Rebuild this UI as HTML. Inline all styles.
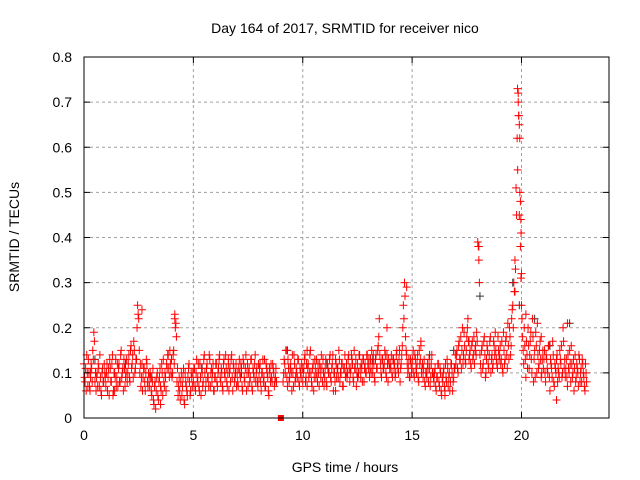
<!DOCTYPE html>
<html><head><meta charset="utf-8">
<style>
body{margin:0;background:#fff;}
svg{display:block;font-family:"Liberation Sans",sans-serif;}
</style></head>
<body>
<svg id="chart" width="640" height="480">
</svg>
<script>
const xTicks=[0,5,10,15,20];
const yTicks=[0,0.1,0.2,0.3,0.4,0.5,0.6,0.7,0.8];
const yTickLabels=["0","0.1","0.2","0.3","0.4","0.5","0.6","0.7","0.8"];
const startHour=0, stepHour=0.05, offsetHour2=0.025;
const redValues=[
12,8,6,10,13,7,9,11,15,19,8,6,10,12,7,9,5,11,8,10,
7,12,9,5,11,8,14,6,10,13,9,7,12,8,15,10,6,11,9,13,
10,14,8,16,12,9,15,11,13,25,22,10,7,12,9,11,6,13,8,10,
7,9,5,11,3,8,6,10,4,9,7,12,5,8,10,6,11,14,9,12,
13,10,15,23,21,8,5,9,4,10,7,11,3,8,6,9,12,5,10,7,
8,11,6,13,9,7,12,5,10,8,14,6,11,9,7,13,10,8,12,6,
9,12,7,11,14,8,10,6,13,9,11,7,12,10,8,14,6,11,9,12,
10,7,13,9,11,6,12,8,14,10,7,11,9,13,6,10,12,8,11,7,
9,12,6,10,8,13,7,11,9,5,10,12,8,11,7,9,null,null,null,null,
null,null,8,13,10,15,7,11,9,12,6,10,14,8,11,9,13,7,10,12,
8,11,14,9,7,12,10,15,8,11,6,13,9,10,12,7,11,14,8,10,
9,13,7,11,10,14,8,12,6,10,13,9,11,15,8,10,12,7,11,9,
12,10,14,8,11,13,9,15,11,7,12,10,14,9,11,13,8,12,10,14,
11,9,13,15,10,12,8,14,11,16,22,12,9,13,11,15,10,14,8,12,
11,14,9,13,12,10,15,11,13,8,12,16,25,30,18,14,10,13,9,12,
11,15,9,13,10,14,8,12,17,11,9,13,7,10,12,8,11,9,14,10,
8,11,6,9,12,7,10,5,8,11,6,9,13,7,10,8,12,6,9,11,
12,15,10,17,13,11,20,14,16,12,18,22,13,15,11,17,14,12,16,19,
39,35,14,10,16,12,18,9,13,15,11,17,10,14,12,16,19,13,11,15,
14,12,17,10,15,13,18,11,16,20,14,22,25,30,35,51,62,72,45,38,
25,18,12,16,9,14,20,11,17,13,22,8,15,19,10,14,12,17,9,13,
11,15,8,13,10,16,6,12,9,14,7,11,13,8,10,15,12,9,20,11,
9,13,7,11,15,8,12,10,6,14,9,11,7,13,10,8,12,9,6,10
];
const redValues2=[
9,11,14,7,10,6,12,8,13,17,10,9,7,11,14,6,10,8,12,9,
10,6,11,13,8,12,5,10,9,7,12,11,8,14,9,11,13,7,10,8,
12,9,15,11,14,17,10,13,20,23,15,12,9,6,11,8,10,12,7,9,
10,6,8,4,7,2,9,5,8,11,6,10,13,7,9,12,14,11,15,10,
9,14,12,20,18,11,7,6,8,5,9,4,10,7,5,11,8,6,9,10,
11,7,10,8,12,6,9,11,7,13,10,8,12,9,14,7,11,10,6,9,
12,8,10,13,9,11,7,12,10,14,8,10,6,11,13,9,12,8,10,7,
8,11,10,12,7,13,9,11,6,12,10,8,13,7,11,9,14,10,8,12,
11,8,10,13,9,7,12,10,6,11,8,9,12,10,8,11,null,null,null,null,
null,null,10,12,15,9,13,8,11,10,14,7,12,9,10,13,8,11,9,11,
10,13,8,12,11,9,14,10,7,12,9,11,13,8,10,12,9,11,13,7,
11,8,12,10,13,9,11,14,10,8,12,11,9,13,10,12,7,11,14,10,
9,13,11,10,14,12,8,11,13,10,9,14,11,12,8,13,11,10,14,12,
13,11,10,12,14,9,13,11,15,18,14,10,13,11,12,14,9,12,13,11,
12,10,13,11,9,14,12,10,15,11,14,20,22,27,15,12,11,9,13,10,
13,10,14,11,12,9,15,13,10,12,11,8,10,9,11,13,7,12,10,9,
10,7,9,12,8,11,6,9,10,7,12,8,11,9,6,12,10,8,11,14,
14,11,16,13,18,15,12,19,13,15,20,17,14,12,16,13,18,15,14,17,
38,30,12,15,11,17,14,10,16,12,14,18,13,11,17,14,15,12,18,13,
16,13,11,19,12,17,14,21,13,18,16,24,20,28,33,45,55,67,50,31,
22,15,20,13,17,11,16,14,19,10,18,13,9,16,21,11,15,13,10,15,
13,10,14,11,16,9,13,11,17,8,12,10,14,11,9,13,16,10,17,13,
11,9,14,10,12,16,9,13,11,8,12,10,14,8,11,13,10,7,12,8
];
const extraTimes=[19.82,19.85,19.87,19.9,19.92,19.95,19.97,19.98,20.0,0.3,2.65,4.15,13.85,14.75,18.05,19.7,20.2,20.9,22.1,3.5,8.8,11.5,16.5,17.6,21.6,1.4,6.6,10.2,12.5,15.4];
const extraValues=[0.73,0.70,0.67,0.65,0.62,0.48,0.44,0.41,0.32,0.10,0.24,0.22,0.20,0.29,0.38,0.28,0.23,0.18,0.21,0.03,0.08,0.06,0.05,0.17,0.04,0.06,0.13,0.15,0.09,0.16];
const blackTimes=[0.5,1.9,3.1,5.4,7.2,9.3,11.1,13.2,15.8,16.9,18.1,19.6,19.9,20.6,21.3,22.2];
const blackValues=[0.13,0.12,0.09,0.11,0.10,0.15,0.12,0.13,0.14,0.15,0.27,0.30,0.25,0.22,0.16,0.21];

const L=84,R=609,T=57,B=418,xMax=24,yMax=0.8;
const xs=v=>L+(v/xMax)*(R-L);
const ys=v=>B-(v/yMax)*(B-T);
const svg=document.getElementById('chart');
const NS='http://www.w3.org/2000/svg';
function mk(tag,attrs){const e=document.createElementNS(NS,tag);for(const k in attrs)e.setAttribute(k,attrs[k]);svg.appendChild(e);return e;}

xTicks.forEach(t=>{if(t>0){const g=mk('line',{x1:xs(t),x2:xs(t),y1:T,y2:B,stroke:'#a0a0a0','stroke-dasharray':'3,3'});

}});
yTicks.forEach(t=>{if(t>0&&t<yMax){const g=mk('line',{x1:L,x2:R,y1:ys(t),y2:ys(t),stroke:'#a0a0a0','stroke-dasharray':'3,3'});

}});

function plus(x,y,color,name){const s=4;const p=mk('path',{d:`M${x-s},${y}H${x+s}M${x},${y-s}V${y+s}`,stroke:color,'stroke-width':1,fill:'none'});

}
blackValues.forEach((v,i)=>plus(xs(blackTimes[i]),ys(v),'#333','black-point'));
redValues.forEach((v,i)=>{if(v===null)return;plus(xs(startHour+i*stepHour),ys(v/100),'#ff0000','red-point');});
redValues2.forEach((v,i)=>{if(v===null)return;plus(xs(startHour+offsetHour2+i*stepHour),ys(v/100),'#ff0000','red-point');});
extraValues.forEach((v,i)=>plus(xs(extraTimes[i]),ys(v),'#ff0000','red-point'));
const sq=mk('rect',{x:xs(9)-3,y:ys(0)-3,width:6,height:6,fill:'#ff0000'});



const fr=mk('rect',{x:L,y:T,width:R-L,height:B-T,fill:'none',stroke:'#000'});


xTicks.forEach(t=>{mk('line',{x1:xs(t),x2:xs(t),y1:B,y2:B-6,stroke:'#000'});mk('line',{x1:xs(t),x2:xs(t),y1:T,y2:T+6,stroke:'#000'});
const tx=mk('text',{x:xs(t),y:B+22,'text-anchor':'middle','font-size':14});tx.textContent=t;

});
yTicks.forEach((t,i)=>{mk('line',{x1:L,x2:L+6,y1:ys(t),y2:ys(t),stroke:'#000'});mk('line',{x1:R,x2:R-6,y1:ys(t),y2:ys(t),stroke:'#000'});
const tx=mk('text',{x:L-12,y:ys(t)+5,'text-anchor':'end','font-size':14});tx.textContent=yTickLabels[i];

});

const title=mk('text',{x:345,y:33,'text-anchor':'middle','font-size':14});title.textContent='Day 164 of 2017, SRMTID for receiver nico';


const xl=mk('text',{x:345,y:472,'text-anchor':'middle','font-size':14});xl.textContent='GPS time / hours';


const yl=mk('text',{x:0,y:0,'text-anchor':'middle','font-size':14,transform:'translate(19,237) rotate(-90)'});yl.textContent='SRMTID / TECUs';


</script>
</body></html>
